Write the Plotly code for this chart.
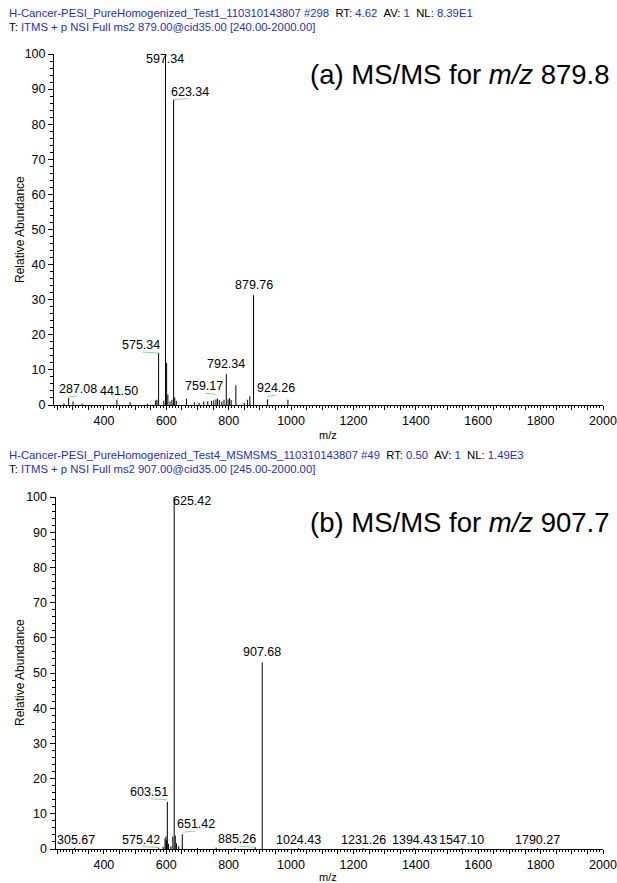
import plotly.graph_objects as go

# ---------------- data ----------------
# Panel (a): MS/MS of m/z 879.8
a_mz = [272.0, 287.08, 301.0, 330.0, 441.50, 484.0, 540.0, 566.0, 570.0, 575.34, 592.0,
        597.34, 601.0, 605.0, 612.0, 618.0, 623.34, 627.0, 632.0, 665.0, 690.0, 705.0,
        720.0, 733.0, 745.0, 752.0, 759.17, 764.0, 770.0, 778.0, 785.0, 792.34, 798.0,
        803.0, 808.0, 823.0, 850.0, 860.0, 868.0, 879.76, 924.26, 990.0]
a_int = [0.5, 2.0, 1.0, 0.4, 1.4, 0.8, 0.4, 1.3, 1.5, 14.8, 1.2,
         100.0, 12.0, 3.0, 1.0, 1.5, 87.0, 2.2, 1.2, 1.8, 0.8, 0.6,
         1.0, 1.0, 1.2, 1.3, 1.6, 1.8, 1.4, 1.0, 1.5, 8.8, 1.6,
         2.0, 1.4, 5.6, 0.6, 1.5, 2.5, 31.3, 1.6, 1.5]
a_labels = [287.08, 441.50, 575.34, 597.34, 623.34, 759.17, 792.34, 879.76, 924.26]

# Panel (b): MS/MS of m/z 907.7
b_mz = [305.67, 575.42, 590.0, 596.0, 599.0, 601.0, 603.51, 607.0, 615.0, 621.0,
        625.42, 629.0, 633.0, 640.0, 651.42, 700.0, 760.0, 820.0, 885.26, 907.68,
        1024.43, 1231.26, 1394.43, 1547.10, 1790.27]
b_int = [0.3, 0.4, 0.6, 3.0, 3.6, 2.5, 13.4, 1.5, 0.8, 3.5,
         100.0, 3.8, 1.6, 0.8, 4.2, 0.3, 0.4, 0.3, 0.5, 53.0,
         0.3, 0.3, 0.3, 0.3, 0.3]
b_labels = [305.67, 575.42, 603.51, 625.42, 651.42, 885.26, 907.68, 1024.43,
            1231.26, 1394.43, 1547.10, 1790.27]

a_xrange = [240, 2000]
b_xrange = [245, 2000]
x_major_labels = [400, 600, 800, 1000, 1200, 1400, 1600, 1800, 2000]
y_ticks = [0, 10, 20, 30, 40, 50, 60, 70, 80, 90, 100]

# ---------------- style ----------------
W, H = 617, 883
FONT = "Liberation Sans, Arial, sans-serif"
BLUE = "#1f2fbf"
GREEN = "#8fd88f"
PX_PER_MZ = (603 - 54) / (2000 - 240)
PX_PER_PCT = (405 - 54) / 100

def fx(p):
    return p / W

def fy(p):
    return 1 - p / H

# label pixel offsets (style only): (xshift, yshift, draw connector)
a_shift = {287.08: (9, -1, True), 441.50: (2, -1, True), 575.34: (-18, -2, True),
           597.34: (0, -15, False), 623.34: (16, -2, True), 759.17: (-12, 3, True),
           792.34: (0, 0, False), 879.76: (0, 0, False), 924.26: (9, 1, True)}
b_shift = {305.67: (2, -2, True), 575.42: (-18, -2, True), 603.51: (-18, 0, True),
           625.42: (18, -14, False), 651.42: (14, 0, True), 885.26: (-18, -2, True),
           907.68: (0, 0, False), 1024.43: (0, -2, False), 1231.26: (0, -2, False),
           1394.43: (0, -2, False), 1547.10: (0, -2, False), 1790.27: (0, -2, False)}


def sticks(mz, inten):
    xs, ys = [], []
    for m, i in zip(mz, inten):
        xs += [m, m, None]
        ys += [0, i, None]
    return xs, ys


fig = go.Figure()
for mz, inten, xa, ya in [(a_mz, a_int, "x", "y"), (b_mz, b_int, "x2", "y2")]:
    xs, ys = sticks(mz, inten)
    fig.add_trace(go.Scatter(x=xs, y=ys, mode="lines", xaxis=xa, yaxis=ya,
                             line=dict(color="black", width=1), hoverinfo="skip",
                             showlegend=False))


def xaxis_cfg(rng, dom, anchor):
    vals = list(range(250, 2001, 50))
    texts = [str(v) if v in x_major_labels else "" for v in vals]
    return dict(range=rng, domain=dom, anchor=anchor, automargin=False,
                tickvals=vals, ticktext=texts, ticks="outside",
                ticklen=4, tickwidth=1, tickcolor="black", showline=True, linecolor="black",
                linewidth=1, showgrid=False, zeroline=False, mirror=False,
                tickfont=dict(family=FONT, size=12.5, color="black"),
                minor=dict(dtick=10, ticks="outside", ticklen=2, tickcolor="black", tickwidth=1,
                           showgrid=False))


def yaxis_cfg(dom, anchor):
    return dict(range=[0, 100], domain=dom, anchor=anchor, automargin=False,
                tickvals=y_ticks, ticks="outside", ticklen=5,
                tickwidth=1, tickcolor="black", showline=True, linecolor="black", linewidth=1,
                showgrid=False, zeroline=False,
                tickfont=dict(family=FONT, size=12.5, color="black"),
                minor=dict(dtick=2, ticks="outside", ticklen=3, tickcolor="black", tickwidth=1,
                           showgrid=False))


annotations = []
shapes = []


def peak_labels(mz, inten, labels, shifts, xr, yr):
    lookup = dict(zip(mz, inten))
    for lab in labels:
        xs, ys, conn = shifts.get(lab, (0, 0, False))
        yv = min(lookup[lab], 100)
        annotations.append(dict(x=lab, y=yv, xref=xr, yref=yr,
                                text=f"{lab:.2f}", showarrow=False, xanchor="center",
                                yanchor="bottom", xshift=xs, yshift=ys + 1,
                                font=dict(family=FONT, size=12.5, color="black")))
        if conn:
            x2 = lab + xs / PX_PER_MZ * 0.9
            yline = yv + (ys + 2) / PX_PER_PCT
            shapes.append(dict(type="line", xref=xr, yref=yr, x0=lab, y0=yline,
                               x1=x2, y1=yline + 0.3,
                               line=dict(color=GREEN, width=1)))


peak_labels(a_mz, a_int, a_labels, a_shift, "x", "y")
peak_labels(b_mz, b_int, b_labels, b_shift, "x2", "y2")


def header(y1, y2, name, scan, rt, nl, scanline):
    hdr_font = dict(family=FONT, size=11.3, color=BLUE)
    sp = "&nbsp;&nbsp;"
    t1 = (f"{name} #{scan}{sp}<span style='color:black'>RT:</span> {rt}{sp}"
          f"<span style='color:black'>AV:</span> 1{sp}<span style='color:black'>NL:</span> {nl}")
    t2 = f"<span style='color:black'>T:</span> {scanline}"
    for t, yy in [(t1, y1), (t2, y2)]:
        annotations.append(dict(x=fx(7), y=fy(yy), xref="paper", yref="paper", text=t,
                                showarrow=False, xanchor="left", yanchor="middle",
                                font=hdr_font))


header(13, 27, "H-Cancer-PESI_PureHomogenized_Test1_110310143807", 298, "4.62", "8.39E1",
       "ITMS + p NSI Full ms2 879.00@cid35.00 [240.00-2000.00]")
header(455, 469, "H-Cancer-PESI_PureHomogenized_Test4_MSMSMS_110310143807", 49, "0.50", "1.49E3",
       "ITMS + p NSI Full ms2 907.00@cid35.00 [245.00-2000.00]")

for ytitle, ymz, title, ytxt in [(230, 435, "(a) MS/MS for <i>m/z</i> 879.8", 75),
                                 (673, 877, "(b) MS/MS for <i>m/z</i> 907.7", 522)]:
    annotations.append(dict(x=fx(20), y=fy(ytitle), xref="paper", yref="paper",
                            text="Relative Abundance", textangle=-90, showarrow=False,
                            xanchor="center", yanchor="middle",
                            font=dict(family=FONT, size=12, color="black")))
    annotations.append(dict(x=fx(328), y=fy(ymz), xref="paper", yref="paper", text="m/z",
                            showarrow=False, xanchor="center", yanchor="middle",
                            font=dict(family=FONT, size=11, color="black")))
    annotations.append(dict(x=fx(612), y=fy(ytxt), xref="paper", yref="paper", text=title,
                            showarrow=False, xanchor="right", yanchor="middle",
                            font=dict(family=FONT, size=27.5, color="black")))

fig.update_layout(
    width=W, height=H, margin=dict(l=0, r=0, t=0, b=0, pad=0, autoexpand=False),
    paper_bgcolor="white", plot_bgcolor="white",
    xaxis=xaxis_cfg(a_xrange, [fx(54), fx(603)], "y"),
    yaxis=yaxis_cfg([fy(405), fy(54)], "x"),
    xaxis2=xaxis_cfg(b_xrange, [fx(55.5), fx(603)], "y2"),
    yaxis2=yaxis_cfg([fy(849), fy(497)], "x2"),
    annotations=annotations,
    shapes=shapes,
    font=dict(family=FONT),
)

fig.write_html("out.html", config={"displayModeBar": False},
               post_script="document.body.style.margin='0';document.body.style.padding='0';"
                           "document.body.style.overflow='hidden';")
